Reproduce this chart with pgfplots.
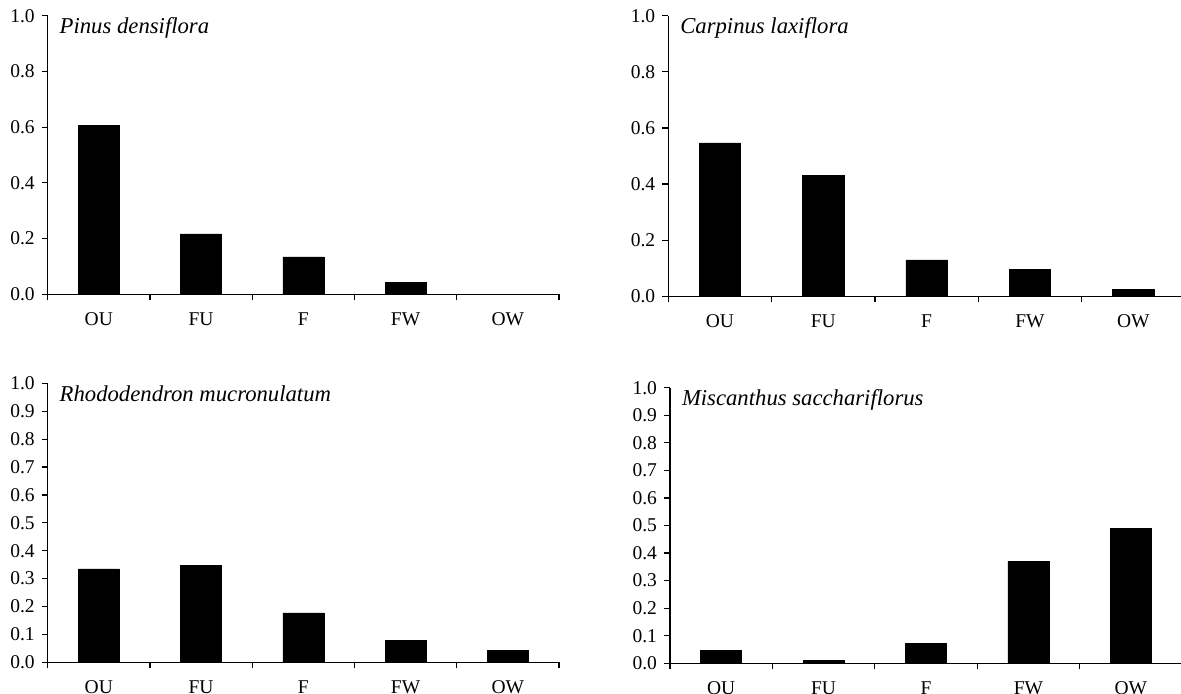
\documentclass[border=0pt]{standalone}
\usepackage{fontspec}
\setmainfont{Liberation Serif}
\usepackage{pgfplots}
\pgfplotsset{compat=1.18}
\pgfplotsset{
 panel/.style={
  scale only axis,
  anchor=south west,
  xmin=-0.5, xmax=4.5, ymin=0, ymax=1,
  axis x line=bottom, axis y line=left,
  axis line style={-, line width=0.6pt, black},
  every tick/.style={line width=0.6pt, black},
  tick align=outside,
  major tick length=3pt,
  minor tick length=3pt,
  xtick={0,1,2,3,4},
  xticklabels={OU,FU,F,FW,OW},
  major x tick style={draw=none},
  minor xtick={-0.5,0.5,1.5,2.5,3.5,4.5},
  ybar, bar width=0.4,
  /pgf/number format/assume math mode=true,
  yticklabel style={/pgf/number format/fixed,/pgf/number format/precision=1,/pgf/number format/fixed zerofill},
  tick label style={font=\fontsize{9.75}{11}\selectfont},
  xticklabel style={yshift=-2.5pt},
  clip=false,
 },
}
\tikzset{
 bars/.style={fill=black, draw=black, line width=0.3pt},
 ttl/.style={anchor=base west, inner sep=0pt, xshift=5.8pt, yshift=-8.9pt, font=\fontsize{11.35}{13}\selectfont\itshape},
}
\begin{document}
\begin{tikzpicture}
% Panel 1
\begin{axis}[panel, at={(23.85pt,199.35pt)}, width=255.65pt, height=139.3pt, ytick={0,0.2,0.4,0.6,0.8,1.0}]
\addplot[bars] coordinates {(0,0.606) (1,0.217) (2,0.134) (3,0.044) (4,0)};
\node[ttl] at (rel axis cs:0,1) {Pinus densiflora};
\end{axis}
% Panel 2
\begin{axis}[panel, at={(334.15pt,198.35pt)}, width=258.35pt, height=140.3pt, ytick={0,0.2,0.4,0.6,0.8,1.0}]
\addplot[bars] coordinates {(0,0.547) (1,0.430) (2,0.130) (3,0.096) (4,0.025)};
\node[ttl] at (rel axis cs:0,1) {Carpinus laxiflora};
\end{axis}
% Panel 3
\begin{axis}[panel, at={(23.85pt,15.35pt)}, width=255.65pt, height=139.5pt, ytick={0,0.1,0.2,0.3,0.4,0.5,0.6,0.7,0.8,0.9,1.0}]
\addplot[bars] coordinates {(0,0.335) (1,0.346) (2,0.177) (3,0.078) (4,0.042)};
\node[ttl] at (rel axis cs:0,1) {Rhododendron mucronulatum};
\end{axis}
% Panel 4
\begin{axis}[panel, at={(335pt,14.85pt)}, width=256pt, height=137.8pt, ytick={0,0.1,0.2,0.3,0.4,0.5,0.6,0.7,0.8,0.9,1.0}]
\addplot[bars] coordinates {(0,0.046) (1,0.011) (2,0.071) (3,0.370) (4,0.490)};
\node[ttl] at (rel axis cs:0,1) {Miscanthus sacchariflorus};
\end{axis}
\pgfresetboundingbox
\path[use as bounding box] (0,0) rectangle (590.5pt,346.5pt);
\end{tikzpicture}
\end{document}
